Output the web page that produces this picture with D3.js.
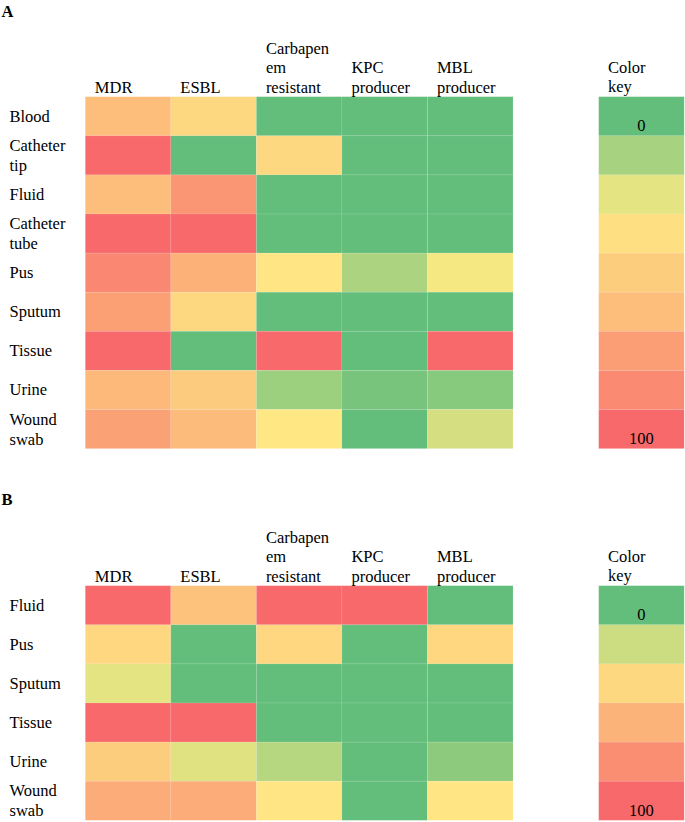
<!DOCTYPE html>
<html><head><meta charset="utf-8">
<script src="https://cdn.jsdelivr.net/npm/d3@7"></script>
<style>
body{margin:0;background:#fff;}
svg{display:block;font-family:"Liberation Serif","Times New Roman",serif;}
</style></head>
<body>
<svg id="chart" width="685" height="822"></svg>
<script>
// ---- data ----
const columns = [["MDR"],["ESBL"],["Carbapen","em","resistant"],["KPC","producer"],["MBL","producer"]];

const rowsA = [["Blood"],["Catheter","tip"],["Fluid"],["Catheter","tube"],["Pus"],["Sputum"],["Tissue"],["Urine"],["Wound","swab"]];
const valuesA = [
  [54, 40, 0, 0, 0],
  [100, 0, 40, 0, 0],
  [55, 76, 0, 0, 0],
  [100, 100, 0, 0, 0],
  [84, 61, 33, 14, 28],
  [71, 40, 0, 0, 0],
  [100, 0, 100, 0, 100],
  [57, 47, 11, 4, 7],
  [70, 56, 32, 0, 22]
];
const keyA = [0, 13, 25, 36, 46, 55, 72, 82, 100];

const rowsB = [["Fluid"],["Pus"],["Sputum"],["Tissue"],["Urine"],["Wound","swab"]];
const valuesB = [
  [100, 52, 100, 100, 0],
  [41, 0, 41, 0, 41],
  [25, 0, 0, 0, 0],
  [100, 100, 0, 0, 0],
  [46, 24, 16, 0, 8],
  [64, 64, 33, 0, 33]
];
const keyB = [0, 20, 40, 60, 80, 100];
const keyLabels = ["0", "100"];

// ---- drawing ----
const svg = d3.select("#chart");
const color = d3.scaleLinear().domain([0, 30, 100])
  .range(["#63BE7B", "#FFEB84", "#F8696B"]).interpolate(d3.interpolateRgb);

const gridLeft = 85.3, gridRight = 513, keyLeft = 598.7, keyRight = 684.2;

function panel(letter, letterY, top, rows, values, keyVals) {
  const bottom = top + rows.length * 39.1;
  const x = d3.scaleBand().domain(d3.range(columns.length)).range([gridLeft, gridRight]);
  const y = d3.scaleBand().domain(d3.range(rows.length)).range([top, bottom]);
  const yk = d3.scaleBand().domain(d3.range(keyVals.length)).range([top, bottom]);

  svg.append("text").attr("x", 1.5).attr("y", letterY)
    .attr("font-weight", "bold").attr("font-size", 16.5).text(letter);

  const g = svg.append("g");
  values.forEach((row, ri) => {
    row.forEach((v, ci) => {
      g.append("rect").attr("x", x(ci)).attr("y", y(ri))
        .attr("width", x.bandwidth()).attr("height", y.bandwidth())
        .attr("fill", color(v))
        .attr("stroke", "rgba(255,255,255,0.12)").attr("stroke-width", 0.8);
    });
  });

  // column headers (bottom aligned)
  columns.forEach((lines, ci) => {
    const t = svg.append("text").attr("font-size", 16.5);
    lines.forEach((ln, i) => {
      t.append("tspan").attr("x", x(ci) + 9.5)
        .attr("y", top - 4 - (lines.length - 1 - i) * 19.3).text(ln);
    });
  });

  // row labels (centered)
  rows.forEach((lines, ri) => {
    const c = y(ri) + y.bandwidth() / 2;
    const t = svg.append("text").attr("font-size", 16.5);
    lines.forEach((ln, i) => {
      t.append("tspan").attr("x", 9.5)
        .attr("y", c + 5.5 - (lines.length - 1) * 10 + i * 20).text(ln);
    });
  });

  // key
  keyVals.forEach((v, i) => {
    svg.append("rect").attr("x", keyLeft).attr("y", yk(i))
      .attr("width", keyRight - keyLeft).attr("height", yk.bandwidth())
      .attr("fill", color(v))
      .attr("stroke", "rgba(255,255,255,0.12)").attr("stroke-width", 0.8);
  });
  const kt = svg.append("text").attr("font-size", 16.5);
  kt.append("tspan").attr("x", 608).attr("y", top - 23.5).text("Color");
  kt.append("tspan").attr("x", 608).attr("y", top - 4.8).text("key");
  const kc = (keyLeft + keyRight) / 2;
  svg.append("text").attr("font-size", 16.5).attr("text-anchor", "middle")
    .attr("x", kc).attr("y", yk(0) + yk.bandwidth() - 5).text(keyLabels[0]);
  svg.append("text").attr("font-size", 16.5).attr("text-anchor", "middle")
    .attr("x", kc).attr("y", yk(keyVals.length - 1) + yk.bandwidth() - 4.5).text(keyLabels[1]);
}

panel("A", 17, 96.7, rowsA, valuesA, keyA);
panel("B", 505, 585.7, rowsB, valuesB, keyB);
</script>
</body></html>
